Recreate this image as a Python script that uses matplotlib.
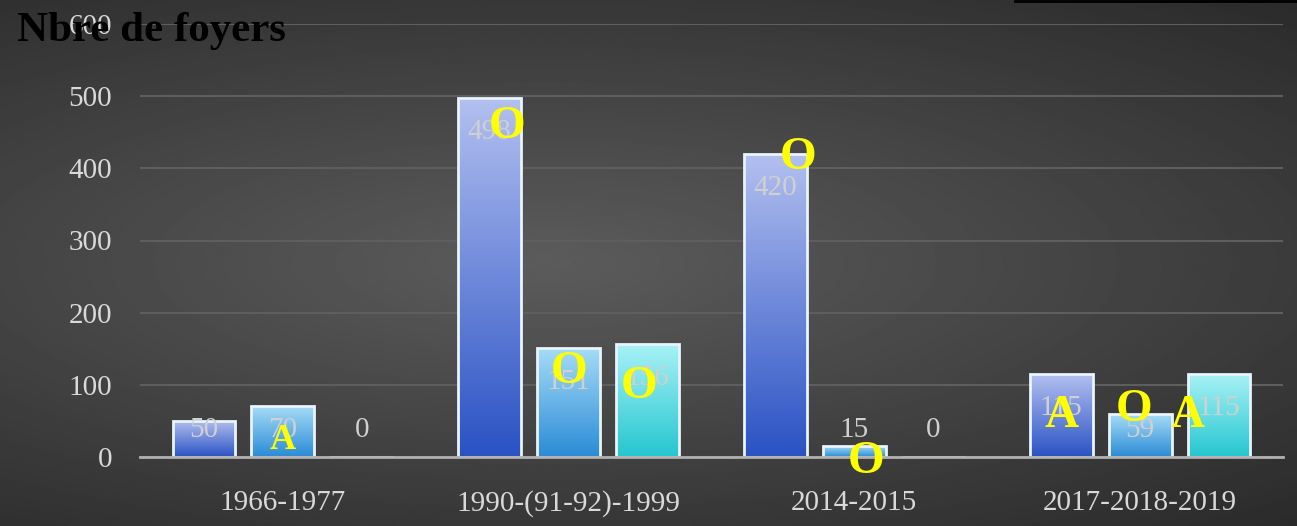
import numpy as np
import matplotlib
matplotlib.use("Agg")
import matplotlib.pyplot as plt
from matplotlib.colors import LinearSegmentedColormap
from matplotlib.lines import Line2D

# data
periods = ["1966-1977", "1990-(91-92)-1999", "2014-2015", "2017-2018-2019"]
serie_1 = [50, 498, 420, 115]
serie_2 = [70, 151, 15, 59]
serie_3 = [0, 156, 0, 115]
y_ticks = [0, 100, 200, 300, 400, 500, 600]

# yellow letters: (period index, series index, letter, value level)
letters = [
    (0, 1, "A", 23),
    (1, 0, "O", 457),
    (1, 1, "O", 118),
    (1, 2, "O", 97),
    (2, 0, "O", 415),
    (2, 1, "O", -7),
    (3, 0, "A", 57),
    (3, 1, "O", 65),
    (3, 2, "A", 57),
]
letter_shift = {(1, 0): 0.06, (1, 2): -0.03, (2, 0): 0.08, (2, 1): 0.04,
                (3, 0): 0.0, (3, 1): -0.02, (3, 2): -0.11}

series = [serie_1, serie_2, serie_3]
grad_colors = [("#2a52c4", "#b3c0f0"),
               ("#2a8bd6", "#a6dcf7"),
               ("#25c6d0", "#a8f2f6")]

fig = plt.figure(figsize=(12.97, 5.26), dpi=100)

# dark radial background
bg = fig.add_axes([0, 0, 1, 1], zorder=-10)
yy, xx = np.mgrid[0:1:300j, 0:1:600j]
r = np.sqrt(((xx - 0.42) / 0.9) ** 2 + ((yy - 0.5) / 0.7) ** 2)
shade = np.clip(0.36 - 0.2 * r, 0.15, 0.36)
bg.imshow(shade, cmap="gray", vmin=0, vmax=1, extent=[0, 1, 0, 1],
          aspect="auto", origin="lower")
bg.axis("off")
fig.add_artist(Line2D([1015 / 1297, 1], [0.999, 0.999], color="black", lw=2))

ax = fig.add_axes([140 / 1297, 69 / 526, 1143 / 1297, 433 / 526])
ax.set_facecolor("none")

width = 0.22
offsets = [-0.276, 0, 0.276]
grad = np.linspace(0, 1, 256).reshape(-1, 1)

for k, vals in enumerate(series):
    cmap = LinearSegmentedColormap.from_list("g%d" % k, grad_colors[k])
    x = np.arange(len(periods)) + offsets[k]
    bars = ax.bar(x, vals, width, color="none", edgecolor="#e8f4ff",
                  linewidth=2, zorder=3)
    for b, v in zip(bars, vals):
        if v > 0:
            im = ax.imshow(grad, cmap=cmap, aspect="auto", origin="lower",
                           extent=[b.get_x(), b.get_x() + width, 0, v], zorder=2)
            im.set_clip_path(b)
        ax.text(b.get_x() + width / 2, max(v - 47, 37), str(v), ha="center",
                va="center", color="#d0d0d0", fontsize=21,
                family="Liberation Serif", zorder=5)

for g, s, ch, lvl in letters:
    xpos = g + offsets[s] + letter_shift.get((g, s), 0)
    size = 26 if (g, s) == (0, 1) else 34
    ax.text(xpos, lvl, ch, ha="center", va="center", color="#ffff00",
            fontsize=size, fontweight="bold",
            family="Liberation Serif", zorder=6)

ax.set_xlim(-0.5, 3.5)
ax.set_ylim(0, 600)
ax.set_yticks(y_ticks)
ax.set_xticks(range(len(periods)))
ax.set_xticklabels(periods)
ax.grid(axis="y", color="#5e5e5e", linewidth=1.5, zorder=0)
ax.tick_params(length=0, colors="#d9d9d9", labelsize=21, pad=20)
ax.tick_params(axis="x", pad=24)
for lab in ax.get_xticklabels() + ax.get_yticklabels():
    lab.set_family("Liberation Serif")
for sp in ["top", "right", "left"]:
    ax.spines[sp].set_visible(False)
ax.spines["bottom"].set_color("#b0b0b0")
ax.spines["bottom"].set_linewidth(2)
ax.spines["bottom"].set_zorder(4)

fig.text(17 / 1297, 1 - 31 / 526, "Nbre de foyers", color="black", fontsize=31,
         fontweight="bold", family="Liberation Serif", va="center", ha="left")

fig.savefig("out.png", dpi=100)
